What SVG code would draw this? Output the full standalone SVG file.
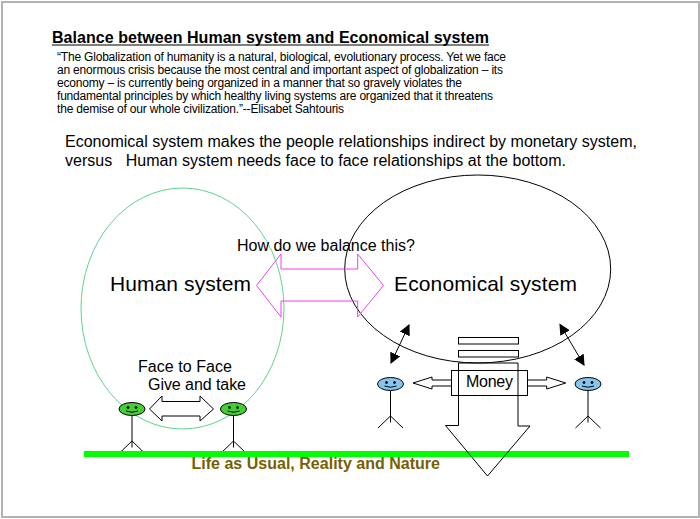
<svg xmlns="http://www.w3.org/2000/svg" width="700" height="519" viewBox="0 0 700 519">
<defs>
<marker id="ah" viewBox="0 0 10 10" refX="9" refY="5" markerWidth="11" markerHeight="11" markerUnits="userSpaceOnUse" orient="auto-start-reverse"><path d="M0 0L10 5L0 10Z" fill="#000"/></marker>
<g id="fig"><line x1="0" y1="6.500" x2="0" y2="38.500"/><path d="M-12.500 44L0 32L12.500 44"/></g>
</defs>
<style>
text{font-family:"Liberation Sans",Arial,sans-serif;fill:#000}
.l{fill:none;stroke:#000;stroke-width:1}
.q{font-size:12px}
.m{font-size:16px}
.b{font-size:21px}
.f{fill:none;stroke:#000}
.gf{fill:#44d034;stroke:#000}
.bf{fill:#86c6ee;stroke:#000}
.e{fill:#000}
</style>
<rect x="0" y="0" width="700" height="519" fill="#fff"/>
<rect x="2" y="2" width="697" height="515" fill="#fff" stroke="#b3b3b3" stroke-width="2"/>
<g id="title"><text x="52" y="43" font-size="16" font-weight="bold" textLength="437" lengthAdjust="spacing">Balance between Human system and Economical system</text><line x1="52" y1="45" x2="489" y2="45" stroke="#000" stroke-width="1"/></g>
<g id="quote" class="q">
<text x="57" y="61" textLength="449">“The Globalization of humanity is a natural, biological, evolutionary process. Yet we face</text>
<text x="57" y="74" textLength="446">an enormous crisis because the most central and important aspect of globalization – its</text>
<text x="57" y="87" textLength="405">economy – is currently being organized in a manner that so gravely violates the</text>
<text x="57" y="100" textLength="436">fundamental principles by which healthy living systems are organized that it threatens</text>
<text x="57" y="113" textLength="287">the demise of our whole civilization.”--Elisabet Sahtouris</text>
</g>
<g id="intro">
<text x="65" y="147" font-size="16" textLength="572">Economical system makes the people relationships indirect by monetary system,</text>
<text x="65" y="166" font-size="16" xml:space="preserve" textLength="501">versus   Human system needs face to face relationships at the bottom.</text>
</g>
<g id="human-system"><ellipse cx="182.500" cy="308.500" rx="101.500" ry="120.500" fill="none" stroke="#5fd38d"/><text x="110" y="291" class="b" textLength="141">Human system</text></g>
<g id="economical-system"><ellipse cx="477.700" cy="269" rx="133" ry="94" fill="none" stroke="#000"/><text x="394" y="291" class="b" textLength="183">Economical system</text></g>
<g id="balance-label"><text x="237" y="251" class="m">How do we balance this?</text></g>
<g id="person-1" transform="translate(132 409)" fill="none" stroke="#000"><use href="#fig"/><ellipse rx="13" ry="6.500" class="gf"/><circle cx="-4" cy="-1.500" r="1" class="e"/><circle cx="4" cy="-1.500" r="1" class="e"/><path d="M-6 2Q0 4.500 6 2" class="f"/></g>
<g id="person-2" transform="translate(233.500 409)" fill="none" stroke="#000"><use href="#fig"/><ellipse rx="13" ry="6.500" class="gf"/><circle cx="-4" cy="-1.500" r="1" class="e"/><circle cx="4" cy="-1.500" r="1" class="e"/><path d="M-6 2Q0 4.500 6 2" class="f"/></g>
<g id="person-3" transform="translate(390.500 384)" fill="none" stroke="#000"><use href="#fig"/><ellipse rx="13" ry="6.500" class="bf"/><circle cx="-4" cy="-1.500" r="1" class="e"/><circle cx="4" cy="-1.500" r="1" class="e"/><path d="M-6 2Q0 4.500 6 2" class="f"/></g>
<g id="person-4" transform="translate(588 384)" fill="none" stroke="#000"><use href="#fig"/><ellipse rx="13" ry="6.500" class="bf"/><circle cx="-4" cy="-1.500" r="1" class="e"/><circle cx="4" cy="-1.500" r="1" class="e"/><path d="M-6 2Q0 4.500 6 2" class="f"/></g>
<g id="ground"><rect x="84" y="451" width="545" height="6" fill="#00ff00"/></g>
<g id="connectors">
<path id="balance-arrow" d="M256.500 285.500L281 254V269H357.700V254L383.500 285.500L357.700 317V301H281V317Z" fill="none" stroke="#f040f0" stroke-width="1"/>
<line x1="409" y1="325" x2="391" y2="363" class="l" marker-start="url(#ah)" marker-end="url(#ah)"/>
<line x1="560" y1="324.500" x2="584" y2="365" class="l" marker-start="url(#ah)" marker-end="url(#ah)"/>
<path id="face-arrow" d="M149.500 409L162 396V401.500H200V396L213.500 409L200 421V416H162V421Z" fill="#fff" stroke="#000"/>
<path d="M451.500 380H432V377L413 383L432 389V386H451.500" class="l"/>
<path d="M527.500 380H546.700V377L565.700 383L546.700 389V386H527.500" class="l"/>
</g>
<g id="down-arrow"><path d="M458.500 363H518V426H530L487.500 476L445.500 425.500H458.500Z" fill="none" stroke="#000"/></g>
<g id="bar-1"><rect x="458.500" y="337.500" width="60" height="6.500" fill="#fff" stroke="#000"/></g>
<g id="bar-2"><rect x="458.500" y="350.500" width="60" height="6.500" fill="#fff" stroke="#000"/></g>
<g id="money"><rect x="451.500" y="370.500" width="76" height="25" fill="none" stroke="#000"/><text x="466" y="387" class="m" textLength="47">Money</text></g>
<g id="face-label"><text x="138" y="372" class="m" textLength="94">Face to Face</text><text x="148" y="390" class="m" textLength="98">Give and take</text></g>
<g id="ground-label"><text x="191.500" y="469" font-size="16" font-weight="bold" style="fill:#776000" textLength="248.500">Life as Usual, Reality and Nature</text></g>
</svg>
